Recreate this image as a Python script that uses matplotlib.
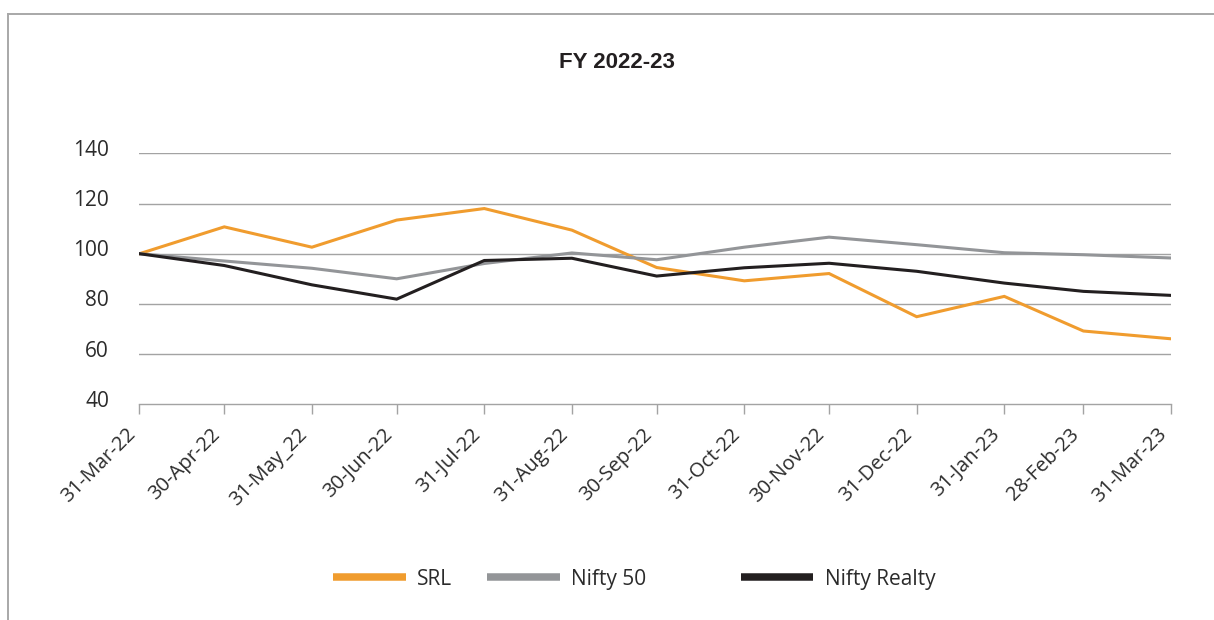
import matplotlib
matplotlib.use("Agg")
import matplotlib.pyplot as plt
import matplotlib.transforms as mtransforms
from matplotlib.lines import Line2D
import pandas as pd

# --- data ---
dates = ["2022-03-31", "2022-04-30", "2022-05-31", "2022-06-30", "2022-07-31",
         "2022-08-31", "2022-09-30", "2022-10-31", "2022-11-30", "2022-12-31",
         "2023-01-31", "2023-02-28", "2023-03-31"]
tick_labels = ["31-Mar-22", "30-Apr-22", "31-May_22", "30-Jun-22", "31-Jul-22",
               "31-Aug-22", "30-Sep-22", "31-Oct-22", "30-Nov-22", "31-Dec-22",
               "31-Jan-23", "28-Feb-23", "31-Mar-23"]
srl = [100, 110.7, 102.6, 113.4, 118.0, 109.4, 94.5, 89.2, 92.1, 74.9, 83.0, 69.2, 66.1]
nifty50 = [100, 97.1, 94.2, 90.0, 96.1, 100.3, 97.6, 102.6, 106.6, 103.6, 100.4, 99.6, 98.3]
nifty_realty = [100, 95.3, 87.6, 81.9, 97.3, 98.2, 91.1, 94.4, 96.2, 93.0, 88.3, 85.0, 83.4]
yticks = [40, 60, 80, 100, 120, 140]

ORANGE = "#F09C2E"
GREY = "#939598"
BLACK = "#231F20"
GRID = "#A3A3A3"
TXT = "#2B2B2B"

plt.rcParams["font.family"] = ["Open Sans", "DejaVu Sans"]

x = pd.to_datetime(dates)

fig = plt.figure(figsize=(12.14, 6.2), dpi=100)
ax = fig.add_axes([0.1149, 0.3479, 0.8497, 0.4048])

series = [
    ("SRL", srl, ORANGE),
    ("Nifty 50", nifty50, GREY),
    ("Nifty Realty", nifty_realty, BLACK),
]
for name, vals, col in series:
    ax.plot(x, vals, color=col, linewidth=2.2, solid_joinstyle="miter", label=name)

ax.set_xlim(x[0], x[-1])
ax.set_ylim(40, 140)

# gridlines only above the x axis
for y in yticks[1:]:
    ax.axhline(y, color=GRID, linewidth=1.0, zorder=0)

for s in ["top", "right", "left"]:
    ax.spines[s].set_visible(False)
ax.spines["bottom"].set_color(GRID)
ax.spines["bottom"].set_linewidth(1.0)

ax.set_yticks(yticks)
ax.set_yticklabels([str(v) for v in yticks], fontsize=15, color=TXT)
ax.tick_params(axis="y", length=0, pad=22)
# nudge y labels up a little, like the original
offset = mtransforms.ScaledTranslation(0, 4.0 / 72, fig.dpi_scale_trans)
for lab in ax.get_yticklabels():
    lab.set_transform(lab.get_transform() + offset)

ax.set_xticks(x)
ax.set_xticklabels(tick_labels, rotation=45, ha="right", fontsize=14.5, color=TXT)
ax.tick_params(axis="x", length=7.5, width=1.0, color=GRID, pad=7)

fig.text(0.508, 0.899, "FY 2022-23", ha="center", va="center",
         fontsize=16, fontweight="bold", color=BLACK,
         family=["Liberation Sans", "DejaVu Sans"])

# legend: separate entries, spaced like the original
legend_x = [0.2741, 0.4012, 0.6100]
for (name, vals, col), lx in zip(series, legend_x):
    h = Line2D([], [], color=col, linewidth=5.4, solid_capstyle="butt")
    fig.legend([h], [name], loc="center left", bbox_to_anchor=(lx, 0.066),
               frameon=False, borderpad=0, borderaxespad=0,
               handlelength=3.5, handletextpad=0.55,
               prop={"size": 15}, labelcolor=TXT)

# frame lines (left + top) around the chart box
fig.add_artist(Line2D([0.0066, 0.0066], [0.0, 0.978], transform=fig.transFigure,
                      color="#A8A8A8", linewidth=1.4))
fig.add_artist(Line2D([0.0066, 1.0], [0.978, 0.978], transform=fig.transFigure,
                      color="#A8A8A8", linewidth=1.4))

fig.savefig("out.png", dpi=100)
